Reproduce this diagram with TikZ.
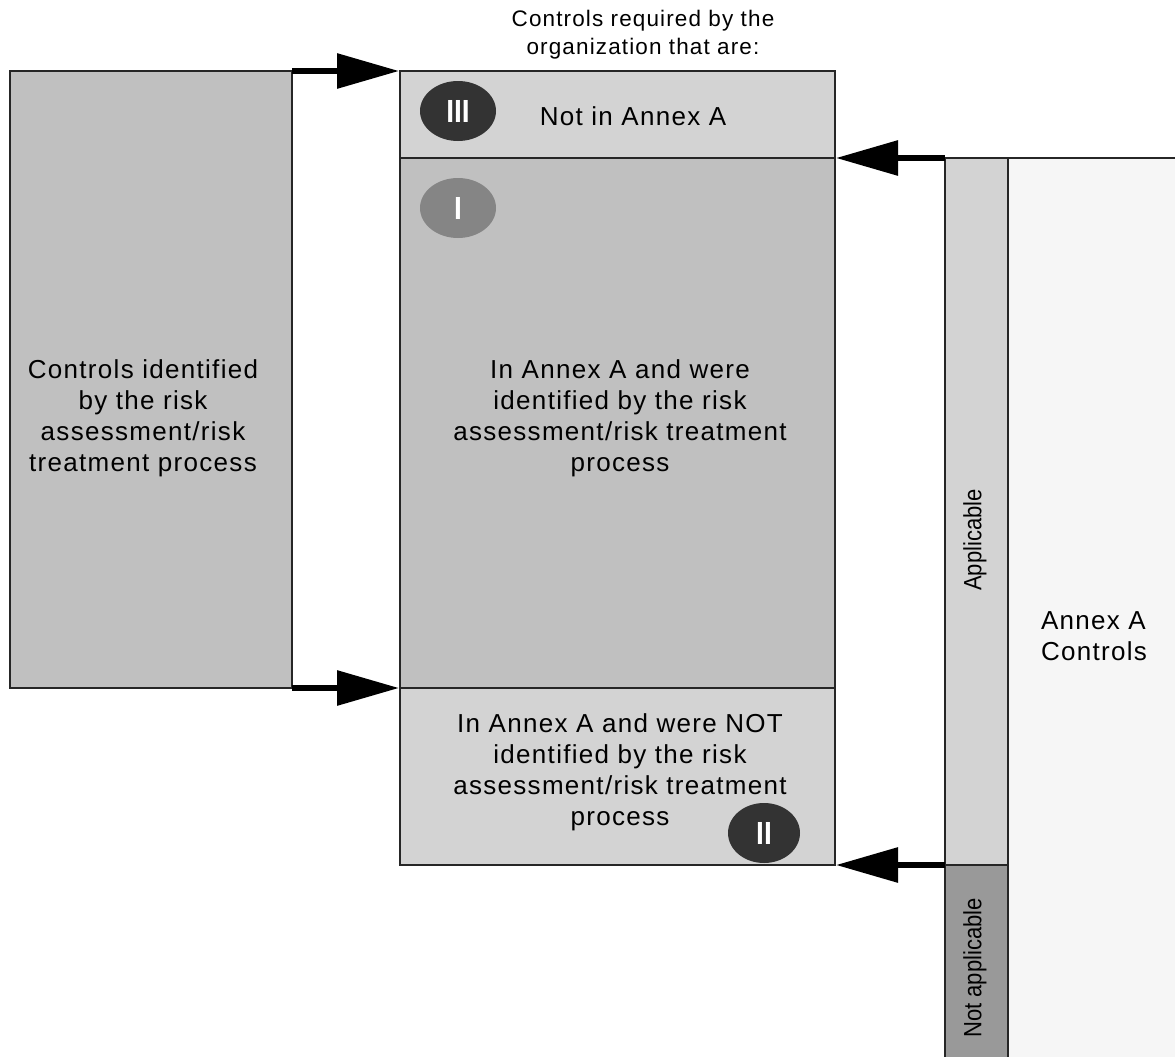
\documentclass[tikz,border=0pt]{standalone}
\usepackage{fontspec}
\setmainfont{Liberation Sans}[LetterSpace=5]
\newfontfamily\narrowfont{Liberation Sans}[FakeStretch=0.88]
\usetikzlibrary{arrows.meta,shapes.geometric}
\definecolor{midgray}{HTML}{C0C0C0}
\definecolor{lightgray}{HTML}{D3D3D3}
\definecolor{darkgray}{HTML}{999999}
\definecolor{paper}{HTML}{F6F6F6}
\definecolor{badge}{HTML}{333333}
\definecolor{badgelight}{HTML}{858585}
\begin{document}
\begin{tikzpicture}[x=1pt,y=-1pt,
  panel/.style={draw=black!85, line width=2.4pt},
  txt/.style={font=\fontsize{26}{31}\selectfont, align=center},
  side/.style={font=\narrowfont\fontsize{25}{31}\selectfont, rotate=90},
  roman/.style={ellipse, minimum width=76pt, minimum height=60pt, inner sep=0pt,
    text=white, font=\narrowfont\fontsize{32}{32}\selectfont\bfseries},
  bigarrow/.style={line width=6pt, -{Triangle[length=62pt,width=34pt]}}
]
\useasboundingbox (0,0) rectangle (1175,1057);

% left panel
\draw[panel, fill=midgray] (10,71) rectangle (292,688);
\node[txt] (left) at (143,418) {Controls identified\\by the risk\\assessment/risk\\treatment process};

% middle column
\draw[panel, fill=lightgray] (400,71) rectangle (835,158);
\draw[panel, fill=midgray] (400,158) rectangle (835,688);
\draw[panel, fill=lightgray] (400,688) rectangle (835,865);

\node[font=\fontsize{22.5}{28}\selectfont, align=center] (title) at (643,35)
  {Controls required by the\\organization that are:};

\node[txt] (notin) at (633,116) {Not in Annex A};
\node[txt] (inA) at (620,418) {In Annex A and were\\identified by the risk\\assessment/risk treatment\\process};
\node[txt] (notA) at (620,772) {In Annex A and were NOT\\identified by the risk\\assessment/risk treatment\\process};

\node[roman, fill=badge] (r3) at (458,111) {III};
\node[roman, fill=badgelight] (r1) at (458,208) {I};
\node[roman, fill=badge, minimum width=72pt] (r2) at (764,833) {II};

% right side: Annex A controls
\draw[panel, fill=paper] (1008,158) -- (1180,158) -- (1180,1062) -- (1008,1062) -- cycle;
\draw[panel, fill=lightgray] (945,158) rectangle (1008,865);
\draw[panel, fill=darkgray] (945,865) -- (1008,865) -- (1008,1062) -- (945,1062) -- cycle;

\node[side] (appl) at (975,540) {Applicable};
\node[side] (napp) at (975,968) {Not applicable};
\node[txt, align=left] (annex) at (1094,636) {Annex A\\Controls};

% connectors
\coordinate (lt) at (292,71);
\coordinate (lb) at (292,688);
\coordinate (mt) at (399,71);
\coordinate (mb) at (399,688);
\coordinate (rt) at (945,158);
\coordinate (rb) at (945,865);
\coordinate (at) at (836,158);
\coordinate (ab) at (836,865);
\draw[bigarrow] (lt) -- (mt);
\draw[bigarrow] (lb) -- (mb);
\draw[bigarrow] (rt) -- (at);
\draw[bigarrow] (rb) -- (ab);
\end{tikzpicture}
\end{document}
